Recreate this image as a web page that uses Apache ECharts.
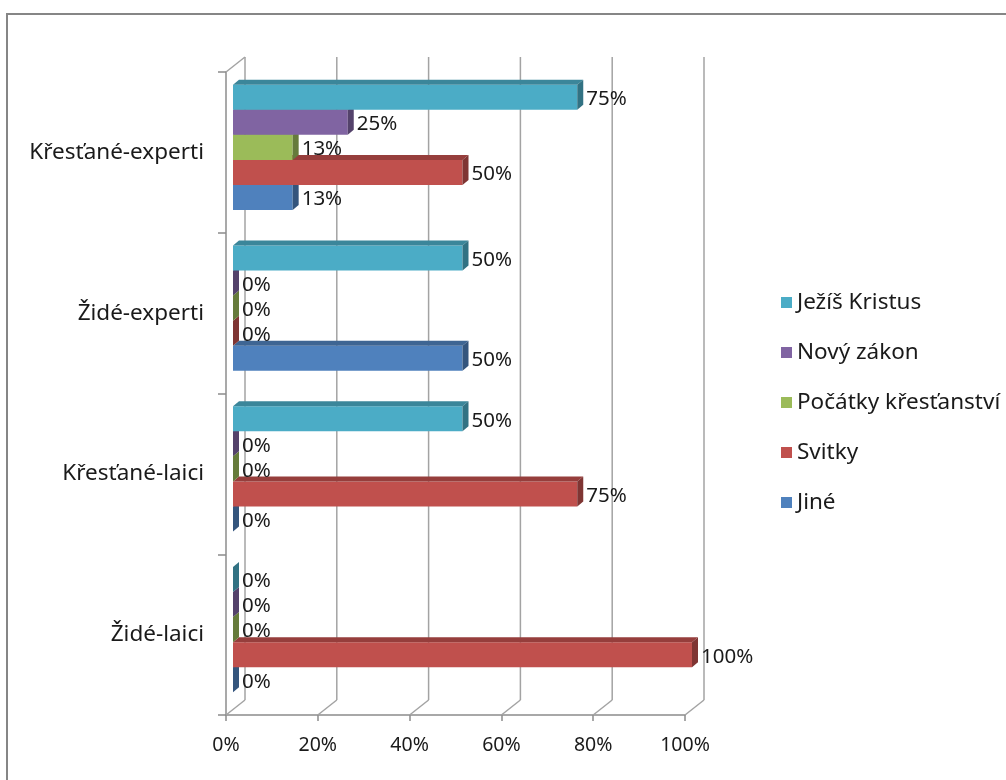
<!DOCTYPE html>
<html>
<head>
<meta charset="utf-8">
<style>
  html, body { margin: 0; padding: 0; background: #ffffff; }
  #chart { width: 1006px; height: 780px; }
</style>
<script src="https://cdn.jsdelivr.net/npm/echarts@6/dist/echarts.min.js"></script>
</head>
<body>
<div id="chart"></div>
<script>
// Categories, bottom to top on the vertical axis
const categories = ['Židé-laici', 'Křesťané-laici', 'Židé-experti', 'Křesťané-experti'];

// Shares (%) per category, same order as categories
const jezisKristus = [0, 50, 50, 75];
const novyZakon    = [0, 0, 0, 25];
const pocatky      = [0, 0, 0, 13];
const svitky       = [100, 75, 0, 50];
const jine         = [0, 0, 50, 13];

// Value-axis ticks
const xTickValues = [0, 20, 40, 60, 80, 100];

// Legend order (top to bottom)
const legendOrder = ['Ježíš Kristus', 'Nový zákon', 'Počátky křesťanství', 'Svitky', 'Jiné'];

const FONT = '"Noto Sans", "Open Sans", sans-serif';

// Pseudo-3D geometry
const DX = 19, DY = -15;   // depth of the walls
const BX = 7,  BY = -5;    // bars sit partway into the depth
const TX = 6,  TY = -5;    // thickness of each bar box
const GAP = 0.22;          // share of the category band left empty
const NSLOTS = 5;

function shade(hex, k) {
  const n = parseInt(hex.slice(1), 16);
  const r = Math.round(((n >> 16) & 255) * k);
  const g = Math.round(((n >> 8) & 255) * k);
  const b = Math.round((n & 255) * k);
  return 'rgb(' + r + ',' + g + ',' + b + ')';
}

// Series listed bottom slot first so upper bars are painted over lower ones
const seriesDefs = [
  { name: 'Jiné',                values: jine,         color: '#4F81BD', slot: 4 },
  { name: 'Svitky',              values: svitky,       color: '#C0504D', slot: 3 },
  { name: 'Počátky křesťanství', values: pocatky,      color: '#9BBB59', slot: 2 },
  { name: 'Nový zákon',          values: novyZakon,    color: '#8064A2', slot: 1 },
  { name: 'Ježíš Kristus',       values: jezisKristus, color: '#4BACC6', slot: 0 }
];

function barRenderer(def) {
  const topColor = shade(def.color, 0.78);
  const sideColor = shade(def.color, 0.66);
  return function (params, api) {
    const cat = api.value(0);
    const val = api.value(1);
    const end = api.coord([val, cat]);
    const base = api.coord([0, cat]);
    const band = api.size([0, 1])[1];
    const barH = band * (1 - GAP) / NSLOTS;
    const y0 = end[1] - band * (1 - GAP) / 2 + def.slot * barH + BY;
    const y1 = y0 + barH;
    const x0 = base[0] + BX;
    const x1 = end[0] + BX;
    return {
      type: 'group',
      children: [
        { type: 'rect', shape: { x: x0, y: y0, width: x1 - x0, height: barH },
          style: { fill: def.color } },
        { type: 'polygon', shape: { points: [[x0, y0], [x1, y0], [x1 + TX, y0 + TY], [x0 + TX, y0 + TY]] },
          style: { fill: topColor } },
        { type: 'polygon', shape: { points: [[x1, y0], [x1 + TX, y0 + TY], [x1 + TX, y1 + TY], [x1, y1]] },
          style: { fill: sideColor } },
        { type: 'text', x: x1 + TX + 3, y: (y0 + y1) / 2 + 2,
          style: { text: val + '%', fill: '#1a1a1a', font: '20.5px ' + FONT,
                   textAlign: 'left', textVerticalAlign: 'middle' } }
      ]
    };
  };
}

// Back wall gridlines and floor/left-wall edges
function wallRenderer(params, api) {
  const cs = params.coordSys;
  const yBot = cs.y + cs.height;
  const lineStyle = { stroke: '#A3A3A3', lineWidth: 1.5 };
  const children = [];
  xTickValues.forEach(function (v) {
    const x = api.coord([v, 0])[0];
    children.push({ type: 'line', shape: { x1: x + DX, y1: cs.y + DY, x2: x + DX, y2: yBot + DY }, style: lineStyle });
    children.push({ type: 'line', shape: { x1: x, y1: yBot, x2: x + DX, y2: yBot + DY }, style: lineStyle });
  });
  children.push({ type: 'line', shape: { x1: cs.x, y1: cs.y, x2: cs.x + DX, y2: cs.y + DY }, style: lineStyle });
  return { type: 'group', children: children };
}

const series = [{
  type: 'custom',
  name: 'walls',
  silent: true,
  z: 1,
  data: [[0, 0]],
  renderItem: wallRenderer
}];

seriesDefs.forEach(function (def, i) {
  series.push({
    type: 'custom',
    name: def.name,
    z: 2 + i,
    itemStyle: { color: def.color },
    data: def.values.map(function (v, c) { return [c, v]; }),
    renderItem: barRenderer(def)
  });
});

const chart = echarts.init(document.getElementById('chart'), null, { renderer: 'canvas' });
chart.setOption({
  backgroundColor: '#ffffff',
  animation: false,
  textStyle: { fontFamily: FONT },
  graphic: [{
    type: 'rect',
    shape: { x: 7, y: 14, width: 1100, height: 900 },
    style: { fill: 'none', stroke: '#868686', lineWidth: 2 },
    silent: true
  }],
  grid: { left: 226, top: 72, width: 459, height: 643, containLabel: false },
  xAxis: {
    type: 'value',
    min: 0, max: 100, interval: 20,
    axisLine: { show: true, lineStyle: { color: '#8C8C8C', width: 1.5 } },
    axisTick: { show: true, length: 6, lineStyle: { color: '#8C8C8C', width: 1.5 } },
    splitLine: { show: false },
    axisLabel: { formatter: '{value}%', color: '#1a1a1a', fontSize: 19.5, margin: 20, fontFamily: FONT }
  },
  yAxis: {
    type: 'category',
    data: categories,
    axisLine: { show: true, lineStyle: { color: '#8C8C8C', width: 1.5 } },
    axisTick: { show: true, length: 8, lineStyle: { color: '#8C8C8C', width: 1.5 } },
    splitLine: { show: false },
    axisLabel: { color: '#1a1a1a', fontSize: 22.5, margin: 22, fontFamily: FONT, padding: [10, 0, 0, 0] }
  },
  legend: {
    data: legendOrder,
    orient: 'vertical',
    left: 776, top: 286,
    itemWidth: 11, itemHeight: 11, itemGap: 27, itemTextGap: 0,
    icon: 'rect',
    selectedMode: false,
    textStyle: { color: '#1a1a1a', fontSize: 22.5, lineHeight: 20, fontFamily: FONT },
    itemStyle: { borderWidth: 0 }
  },
  series: series
});
</script>
</body>
</html>
